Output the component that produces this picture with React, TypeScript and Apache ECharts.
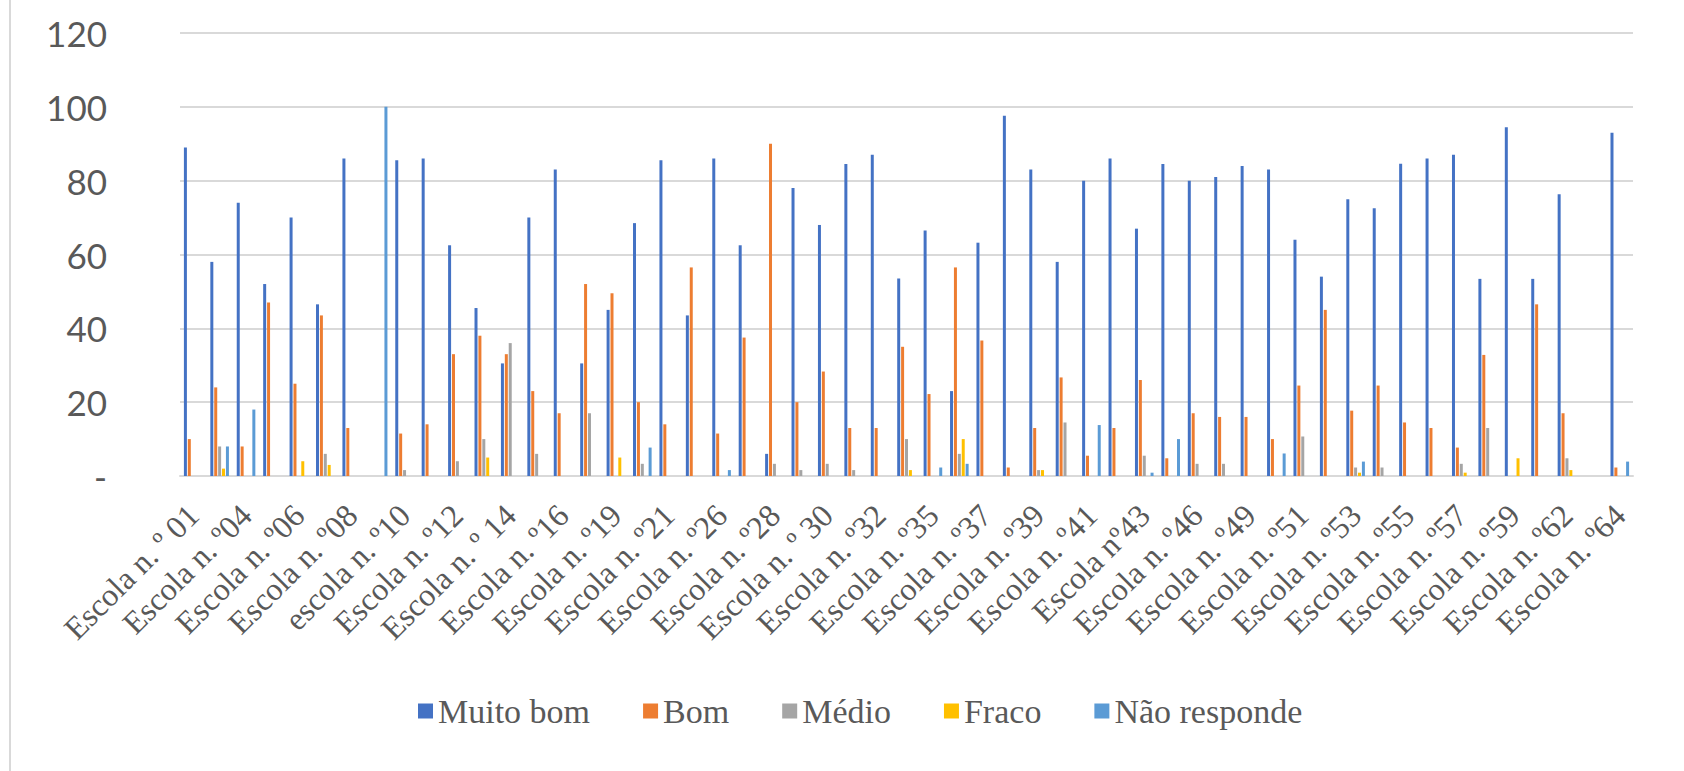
import React, { useEffect, useRef } from "react";
import * as echarts from "echarts";

const categories: string[] = [
  "Escola n. º 01", "Escola n. º02", "Escola n. º04", "Escola n. º05", "Escola n. º06",
  "Escola n. º07", "Escola n. º08", "Escola n. º09", "escola n. º10", "Escola n. º11",
  "Escola n. º12", "Escola n. º13", "Escola n. º 14", "Escola n. º15", "Escola n. º16",
  "Escola n. º17", "Escola n. º19", "Escola n. º20", "Escola n. º21", "Escola n. º22",
  "Escola n. º26", "Escola n. º27", "Escola n. º28", "Escola n. º29", "Escola n. º 30",
  "Escola n. º31", "Escola n. º32", "Escola n. º33", "Escola n. º35", "Escola n. º36",
  "Escola n. º37", "Escola n. º38", "Escola n. º39", "Escola n. º40", "Escola n. º41",
  "Escola n. º42", "Escola nº43", "Escola n. º44", "Escola n. º46", "Escola n. º47",
  "Escola n. º49", "Escola n. º50", "Escola n. º51", "Escola n. º52", "Escola n. º53",
  "Escola n. º54", "Escola n. º55", "Escola n. º56", "Escola n. º57", "Escola n. º58",
  "Escola n. º59", "Escola n. º60", "Escola n. º62", "Escola n. º63", "Escola n. º64",
];

const muitoBom: number[] = [
  89, 58, 74, 52, 70, 46.5, 86, 0, 85.5, 86,
  62.5, 45.5, 30.5, 70, 83, 30.5, 45, 68.5, 85.5, 43.5,
  86, 62.5, 6, 78, 68, 84.5, 87, 53.5, 66.5, 23,
  63.2, 97.6, 83, 58, 80, 86, 67, 84.5, 80, 81,
  84, 83, 64, 54, 75, 72.5, 84.6, 86, 87, 53.4,
  94.5, 53.4, 76.3, 0, 93,
];
const bom: number[] = [
  10, 24, 8, 47, 25, 43.5, 13, 0, 11.5, 14,
  33, 38, 33, 23, 17, 52, 49.5, 20, 14, 56.5,
  11.5, 37.5, 90, 20, 28.3, 13, 13, 35, 22.2, 56.5,
  36.7, 2.3, 13, 26.7, 5.5, 13, 26, 4.8, 17, 16,
  16, 10, 24.5, 45, 17.7, 24.5, 14.5, 13, 7.7, 32.8,
  0, 46.5, 17, 0, 2.3,
];
const medio: number[] = [
  0, 8, 0, 0, 0, 6, 0, 0, 1.6, 0,
  4, 10, 36, 6, 0, 17, 0, 3.3, 0, 0,
  0, 0, 3.3, 1.6, 3.3, 1.6, 0, 10, 0, 6,
  0, 0, 1.6, 14.5, 0, 0, 5.5, 0, 3.3, 3.3,
  0, 0, 10.7, 0, 2.3, 2.3, 0, 0, 3.3, 13,
  0, 0, 4.8, 0, 0,
];
const fraco: number[] = [
  0, 2, 0, 0, 4, 3, 0, 0, 0, 0,
  0, 5, 0, 0, 0, 0, 5, 0, 0, 0,
  0, 0, 0, 0, 0, 0, 0, 1.6, 0, 10,
  0, 0, 1.6, 0, 0, 0, 0, 0, 0, 0,
  0, 0, 0, 0, 0.9, 0, 0, 0, 0.9, 0,
  4.8, 0, 1.6, 0, 0,
];
const naoResponde: number[] = [
  0, 8, 18, 0, 0, 0, 0, 100, 0, 0,
  0, 0, 0, 0, 0, 0, 0, 7.7, 0, 0,
  1.6, 0, 0, 0, 0, 0, 0, 0, 2.3, 3.3,
  0, 0, 0, 0, 13.8, 0, 0.9, 10, 0, 0,
  0, 6.1, 0, 0, 3.9, 0, 0, 0, 0, 0,
  0, 0, 0, 0, 3.9,
];

const seriesNames = ["Muito bom", "Bom", "Médio", "Fraco", "Não responde"];
const seriesColors = ["#4472C4", "#ED7D31", "#A5A5A5", "#FFC000", "#5B9BD5"];
const seriesData = [muitoBom, bom, medio, fraco, naoResponde];

export default function App() {
  const ref = useRef<HTMLDivElement>(null);
  useEffect(() => {
    if (!ref.current) return;
    const chart = echarts.init(ref.current, null, { renderer: "svg" });
    chart.setOption({
      animation: false,
      backgroundColor: "#ffffff",
      grid: {
        left: 180,
        right: 51,
        top: 33,
        bottom: 295,
        containLabel: false,
        outerBoundsMode: "none",
      },
      legend: {
        data: seriesNames,
        left: 413,
        top: 689,
        itemWidth: 15,
        itemHeight: 15,
        itemGap: 53,
        icon: "rect",
        textStyle: {
          fontFamily: "Liberation Serif",
          fontSize: 34,
          color: "#595959",
        },
      },
      xAxis: {
        type: "category",
        data: categories,
        axisTick: { show: false },
        axisLine: { lineStyle: { color: "#d9d9d9", width: 2 } },
        axisLabel: {
          interval: 1,
          rotate: 45,
          margin: 34,
          fontFamily: "Liberation Serif",
          fontSize: 32,
          color: "#595959",
        },
      },
      yAxis: {
        type: "value",
        min: 0,
        max: 120,
        interval: 20,
        axisLine: { show: false },
        axisTick: { show: false },
        splitLine: { lineStyle: { color: "#d9d9d9", width: 2 } },
        axisLabel: {
          margin: 73,
          fontFamily: "Lato",
          fontSize: 35,
          color: "#595959",
          formatter: (v: number) => (v === 0 ? "-" : String(v)),
        },
      },
      graphic: [
        {
          type: "line",
          shape: { x1: 10, y1: 0, x2: 10, y2: 771 },
          style: { stroke: "#d9d9d9", lineWidth: 2 },
        },
      ],
      series: seriesNames.map((name, i) => ({
        name,
        type: "bar",
        data: seriesData[i],
        barWidth: 3,
        barGap: "30%",
        itemStyle: { color: seriesColors[i] },
      })),
    });
    return () => chart.dispose();
  }, []);
  return (
    <div
      ref={ref}
      style={{ position: "fixed", left: 0, top: 0, width: 1684, height: 771 }}
    />
  );
}
